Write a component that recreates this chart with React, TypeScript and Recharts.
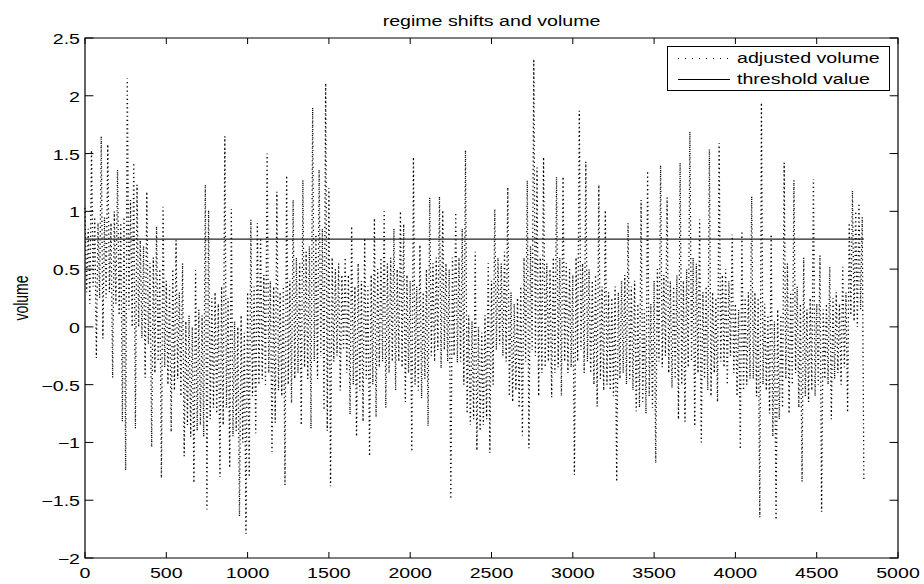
import React from 'react'
import { LineChart, Line, XAxis, YAxis, ReferenceArea, Legend } from 'recharts'

const title = 'regime shifts and volume'
const yLabel = 'volume'
const seriesNames = ['adjusted volume', 'threshold value']
const xTicks = [0, 500, 1000, 1500, 2000, 2500, 3000, 3500, 4000, 4500, 5000]
const yTicks = [-2, -1.5, -1, -0.5, 0, 0.5, 1, 1.5, 2, 2.5]
const threshold = 0.76
const step = 10

// upper swings of the adjusted volume, one every 20 samples
const highs = [
  1.03, 0.85, 1.53, 0.95, 0.9, 1.65, 0.95, 1.58, 0.9, 1.0,
  1.36, 0.9, 0.95, 2.15, 1.1, 1.42, 1.23, 0.75, 0.7, 1.17,
  0.55, 0.6, 0.87, 0.5, 1.04, 0.4, 0.35, 0.5, 0.75, 0.3,
  0.55, 0.05, 0.1, 0.0, 0.49, 0.15, 0.1, 1.23, 1.01, 0.25,
  0.3, 0.2, 0.35, 1.65, 0.25, 1.02, 0.05, 0.0, 0.1, -0.05,
  0.3, 0.93, 0.35, 0.9, 0.77, 0.45, 1.5, 0.4, 0.35, 1.17,
  0.3, 0.35, 1.31, 0.4, 1.1, 0.6, 0.55, 1.27, 0.65, 0.7,
  1.9, 0.8, 1.36, 0.85, 2.11, 1.2, 0.6, 0.5, 0.55, 0.45,
  0.6, 0.45, 0.87, 0.35, 0.55, 0.4, 0.77, 0.35, 0.45, 0.94,
  0.5, 0.6, 1.0, 0.55, 0.6, 0.85, 0.5, 1.0, 0.89, 0.45,
  0.4, 1.47, 0.35, 0.71, 0.3, 0.5, 1.12, 0.55, 0.6, 1.13,
  1.01, 0.55, 0.5, 0.6, 0.99, 0.6, 0.85, 1.53, 0.1, 0.05,
  0.65, 0.0, -0.05, 0.1, 0.55, 0.4, 1.02, 0.6, 0.55, 0.65,
  1.21, 0.3, 0.2, 0.25, 0.35, 0.6, 1.27, 0.7, 2.32, 1.38,
  0.6, 1.47, 0.55, 0.5, 0.6, 1.3, 0.6, 1.3, 0.55, 0.5,
  0.45, 0.6, 1.87, 0.55, 1.43, 0.5, 0.4, 0.45, 1.23, 0.35,
  1.01, 0.3, 0.25, 0.35, 0.3, 0.4, 0.45, 0.9, 0.35, 0.4,
  0.2, 1.1, 0.15, 1.35, 0.2, 0.4, 0.5, 1.4, 0.45, 1.12,
  0.4, 0.35, 0.45, 1.42, 0.4, 0.5, 1.69, 0.6, 0.55, 0.93,
  0.3, 0.35, 1.54, 0.3, 0.25, 1.59, 0.45, 0.5, 0.4, 0.8,
  0.2, 0.15, 0.83, 0.25, 0.3, 1.13, 0.3, 0.25, 1.94, 0.2,
  0.1, 0.8, 0.05, 0.15, 0.1, 1.42, 0.55, 0.3, 1.27, 0.35,
  0.2, 0.6, 0.15, 0.25, 1.28, 0.2, 0.62, 0.15, 0.2, 0.52,
  0.25, 0.3, 0.2, 0.52, 0.3, 0.9, 1.18, 1.0, 1.07, 0.95,
]

// lower swings, 10 samples after each upper one
const lows = [
  0.3, 0.2, 0.35, -0.27, 0.25, -0.1, 0.25, 0.3, -0.44, 0.2,
  0.1, -0.82, -1.24, 0.15, 0.0, -0.88, 0.0, -0.1, -0.44, -0.15,
  -1.04, -0.4, -0.3, -1.31, -0.35, -0.5, -0.91, -0.55, -0.45, -0.6,
  -1.12, -0.85, -0.95, -1.35, -0.9, -0.85, -0.95, -1.58, -0.8, -0.7,
  -0.75, -1.3, -0.85, -0.7, -1.22, -0.95, -0.9, -1.64, -1.0, -1.79,
  -1.3, -0.6, -0.92, -0.5, -0.45, -0.5, -0.4, -1.08, -0.83, -0.55,
  -0.6, -1.37, -0.5, -0.66, -0.45, -0.4, -0.85, -0.35, -0.45, -0.88,
  -0.3, -0.45, -0.25, -0.72, -0.9, -1.38, -0.3, -0.25, -0.55, -0.2,
  -0.4, -0.76, -0.5, -0.95, -0.55, -0.82, -0.45, -1.12, -0.5, -0.78,
  -0.35, -0.3, -0.7, -0.4, -0.3, -0.55, -0.3, -0.35, -0.65, -0.4,
  -1.08, -0.5, -0.55, -0.62, -0.45, -0.86, -0.25, -0.3, -0.2, -0.36,
  -0.2, -0.3, -1.49, -0.25, -0.31, -0.3, -0.5, -0.75, -0.85, -0.8,
  -1.07, -0.9, -0.85, -0.8, -1.09, -0.5, -0.2, -0.15, -0.25, -0.3,
  -0.6, -0.65, -0.55, -0.7, -0.94, -0.3, -1.05, -0.2, -0.25, -0.6,
  -0.4, -0.35, -0.3, -0.61, -0.4, -0.35, -0.6, -0.3, -0.4, -0.35,
  -1.28, -0.3, -0.2, -0.4, -0.3, -0.4, -0.5, -0.69, -0.45, -0.55,
  -0.5, -0.55, -0.6, -1.34, -0.45, -0.4, -0.5, -0.45, -0.55, -0.73,
  -0.7, -0.65, -0.75, -0.6, -0.7, -1.18, -0.3, -0.35, -0.25, -0.4,
  -0.53, -0.45, -0.8, -0.5, -0.82, -0.35, -0.3, -0.86, -0.4, -1.0,
  -0.45, -0.55, -0.6, -0.4, -0.65, -0.3, -0.35, -0.5, -0.25, -0.4,
  -0.6, -1.06, -0.55, -0.5, -0.45, -0.45, -0.6, -1.65, -0.5, -0.55,
  -0.75, -0.95, -1.67, -0.8, -0.7, -0.45, -0.75, -0.5, -0.4, -0.7,
  -1.34, -0.6, -0.65, -0.55, -0.6, -0.5, -1.6, -0.45, -0.5, -0.8,
  -0.45, -0.4, -0.5, -0.35, -0.74, 0.1, 0.05, 0.0, 0.15, -1.32,
]

const data = highs.flatMap((h, i) => [
  { t: 2 * i * step, volume: h, threshold },
  { t: (2 * i + 1) * step, volume: lows[i], threshold },
])

// plot box in pixels (matches the margins below)
const box = { left: 85, top: 38, right: 898, bottom: 558 }
const font = '"Liberation Sans", Arial, Helvetica, sans-serif'
const stretch = 1.4
const tickLen = 6

const fmt = (v: number) => (v < 0 ? '\u2212' + String(-v) : String(v))

const XTick = ({ x, payload }: any) => (
  <g>
    <line x1={x} x2={x} y1={box.bottom} y2={box.bottom - tickLen} stroke="#000" />
    <line x1={x} x2={x} y1={box.top} y2={box.top + tickLen} stroke="#000" />
    <text
      transform={`translate(${x},578) scale(${stretch},1)`}
      textAnchor="middle"
      fontSize={14}
      fontFamily={font}
      fill="#000"
    >
      {fmt(payload.value)}
    </text>
  </g>
)

const YTick = ({ y, payload }: any) => (
  <g>
    <line x1={box.left} x2={box.left + tickLen * stretch} y1={y} y2={y} stroke="#000" />
    <line x1={box.right} x2={box.right - tickLen * stretch} y1={y} y2={y} stroke="#000" />
    <text
      transform={`translate(${box.left - 5},${y + 6}) scale(${stretch},1)`}
      textAnchor="end"
      fontSize={14}
      fontFamily={font}
      fill="#000"
    >
      {fmt(payload.value)}
    </text>
  </g>
)

const LegendBox = () => (
  <svg width={223} height={45} style={{ display: 'block' }}>
    <rect x={0.5} y={0.5} width={222} height={44} fill="#fff" stroke="#000" />
    <line x1={11} x2={63} y1={12.5} y2={12.5} stroke="#000" strokeDasharray="1 6" />
    <text transform={`translate(70,17) scale(${stretch},1)`} fontSize={14} fontFamily={font}>
      {seriesNames[0]}
    </text>
    <line x1={11} x2={63} y1={33.5} y2={33.5} stroke="#000" />
    <text transform={`translate(70,38) scale(${stretch},1)`} fontSize={14} fontFamily={font}>
      {seriesNames[1]}
    </text>
  </svg>
)

export default function App() {
  return (
    <div style={{ position: 'absolute', left: 0, top: 0, background: '#fff' }}>
      <LineChart
        width={924}
        height={584}
        data={data}
        margin={{ top: box.top, right: 924 - box.right, bottom: 0, left: 0 }}
      >
        <text
          transform={`translate(${(box.left + box.right) / 2},26) scale(${stretch},1)`}
          textAnchor="middle"
          fontSize={14}
          fontFamily={font}
          fill="#000"
        >
          {title}
        </text>
        <text
          transform={`translate(28,${(box.top + box.bottom) / 2}) scale(${stretch},1) rotate(-90)`}
          textAnchor="middle"
          fontSize={14}
          fontFamily={font}
          fill="#000"
        >
          {yLabel}
        </text>
        <XAxis
          type="number"
          dataKey="t"
          domain={[0, 5000]}
          ticks={xTicks}
          interval={0}
          height={584 - box.bottom}
          axisLine={false}
          tickLine={false}
          tick={<XTick />}
        />
        <YAxis
          type="number"
          domain={[-2, 2.5]}
          ticks={yTicks}
          interval={0}
          width={box.left}
          axisLine={false}
          tickLine={false}
          tick={<YTick />}
        />
        <ReferenceArea x1={0} x2={5000} y1={-2} y2={2.5} fill="none" stroke="#000" strokeWidth={1.2} />
        <Line
          type="linear"
          dataKey="volume"
          name={seriesNames[0]}
          stroke="#000"
          strokeWidth={1.3}
          strokeDasharray="1.2 3"
          dot={false}
          isAnimationActive={false}
        />
        <Line
          type="linear"
          dataKey="threshold"
          name={seriesNames[1]}
          stroke="#222"
          strokeWidth={1.2}
          dot={false}
          isAnimationActive={false}
        />
        <Legend
          content={<LegendBox />}
          layout="horizontal"
          verticalAlign="middle"
          align="center"
          wrapperStyle={{ left: 667, top: 46, width: 223, height: 45 }}
        />
      </LineChart>
    </div>
  )
}
